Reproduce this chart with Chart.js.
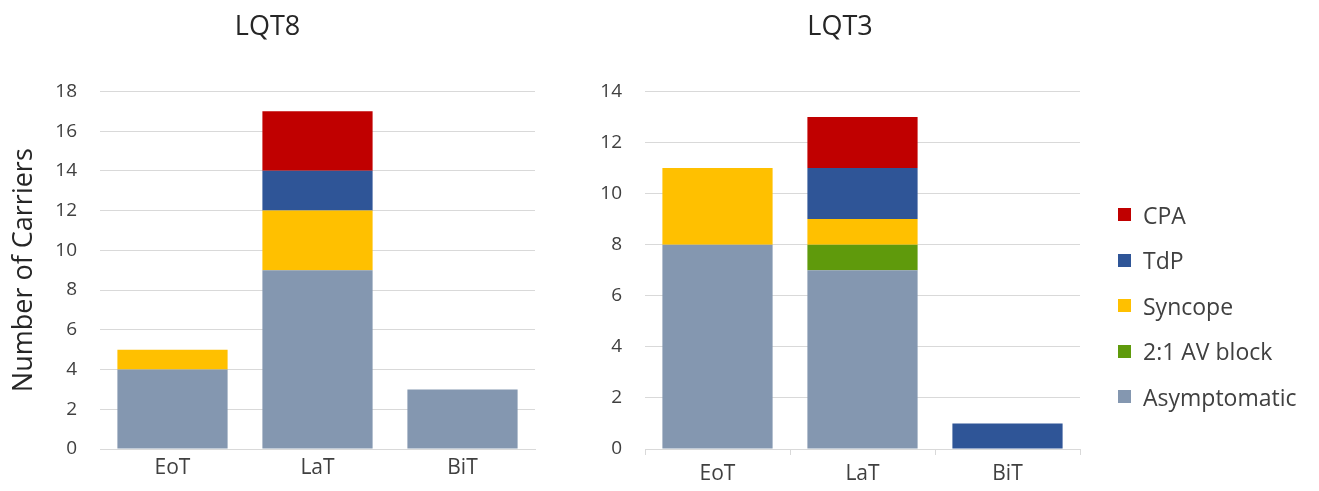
<!DOCTYPE html>
<html>
<head>
<meta charset="utf-8">
<script src="https://cdn.jsdelivr.net/npm/chart.js@4/dist/chart.umd.min.js"></script>
<style>
  body { margin: 0; background: #fff; }
  .box { position: absolute; top: 0; height: 491px; }
  #wrap8 { left: 0; width: 634px; }
  #wrap3 { left: 600px; width: 520px; }
  #legend { position: absolute; left: 1118px; top: 192px; font-family: "Open Sans", sans-serif; font-size: 23px; color: #404040; }
  #legend .row { display: flex; align-items: center; height: 45.5px; }
  #legend .sw { width: 13px; height: 13px; margin-right: 12px; }
</style>
</head>
<body>
<div class="box" id="wrap8"><canvas id="lqt8"></canvas></div>
<div class="box" id="wrap3"><canvas id="lqt3"></canvas></div>
<div id="legend"></div>
<script>
// categories / series
const categories = ['EoT', 'LaT', 'BiT'];
const seriesNames = ['Asymptomatic', '2:1 AV block', 'Syncope', 'TdP', 'CPA'];
const seriesColors = ['#8497B0', '#5F9A0C', '#FFC000', '#2F5597', '#C00000'];

// LQT8 carriers
const lqt8Asymptomatic = [4, 9, 3];
const lqt8AVBlock = [0, 0, 0];
const lqt8Syncope = [1, 3, 0];
const lqt8TdP = [0, 2, 0];
const lqt8CPA = [0, 3, 0];

// LQT3 carriers
const lqt3Asymptomatic = [8, 7, 0];
const lqt3AVBlock = [0, 1, 0];
const lqt3Syncope = [3, 1, 0];
const lqt3TdP = [0, 2, 1];
const lqt3CPA = [0, 2, 0];

const lqt8Max = 18;
const lqt3Max = 14;

const FONT = '"Open Sans", sans-serif';
const TEXT = '#404040';
const GRID = '#d9d9d9';

function makeSets(values, barPct) {
  return values.map(function(v, i) {
    return {
      label: seriesNames[i],
      data: v,
      backgroundColor: seriesColors[i],
      borderWidth: 0,
      barPercentage: barPct,
      categoryPercentage: 1
    };
  });
}

function makeChart(id, title, values, max, cfg) {
  const ctx = document.getElementById(id).getContext('2d');
  return new Chart(ctx, {
    type: 'bar',
    data: { labels: categories, datasets: makeSets(values, cfg.barPct) },
    options: {
      responsive: true,
      maintainAspectRatio: false,
      animation: false,
      layout: { padding: { left: 0, right: cfg.padRight, top: 0, bottom: 0 } },
      plugins: {
        legend: { display: false },
        tooltip: { enabled: false },
        title: {
          display: true,
          text: title,
          color: '#262626',
          font: { family: FONT, size: 27, weight: 'normal' },
          padding: { top: 11, bottom: 48 }
        }
      },
      scales: {
        x: {
          stacked: true,
          grid: {
            display: cfg.xTicks,
            drawOnChartArea: false,
            drawTicks: cfg.xTicks,
            tickLength: 6,
            color: GRID
          },
          border: { display: true, color: GRID },
          ticks: { color: TEXT, font: { family: FONT, size: 21 }, padding: 6 },
          afterFit: function(s) { s.height = 42; }
        },
        y: {
          stacked: true,
          min: 0,
          max: max,
          grid: { color: GRID, drawTicks: false },
          border: { display: false },
          ticks: { stepSize: 2, color: TEXT, font: { family: FONT, size: 19 }, padding: 23 },
          title: {
            display: cfg.yTitle,
            text: 'Number of Carriers',
            color: '#262626',
            font: { family: FONT, size: 27 },
            padding: { top: 8, bottom: 0 }
          },
          afterFit: function(s) { s.width = cfg.yWidth; }
        }
      }
    }
  });
}

makeChart('lqt8', 'LQT8',
  [lqt8Asymptomatic, lqt8AVBlock, lqt8Syncope, lqt8TdP, lqt8CPA], lqt8Max,
  { barPct: 0.76, padRight: 99, yWidth: 100, yTitle: true, xTicks: false });

const chart3 = makeChart('lqt3', 'LQT3',
  [lqt3Asymptomatic, lqt3AVBlock, lqt3Syncope, lqt3TdP, lqt3CPA], lqt3Max,
  { barPct: 0.76, padRight: 40, yWidth: 45, yTitle: false, xTicks: true });

// html legend, top of stack first
const items = Chart.defaults.plugins.legend.labels.generateLabels(chart3).reverse();
const legendEl = document.getElementById('legend');
items.forEach(function(it) {
  const row = document.createElement('div');
  row.className = 'row';
  const sw = document.createElement('span');
  sw.className = 'sw';
  sw.style.background = it.fillStyle;
  const txt = document.createElement('span');
  txt.textContent = it.text;
  row.appendChild(sw);
  row.appendChild(txt);
  legendEl.appendChild(row);
});
</script>
</body>
</html>
